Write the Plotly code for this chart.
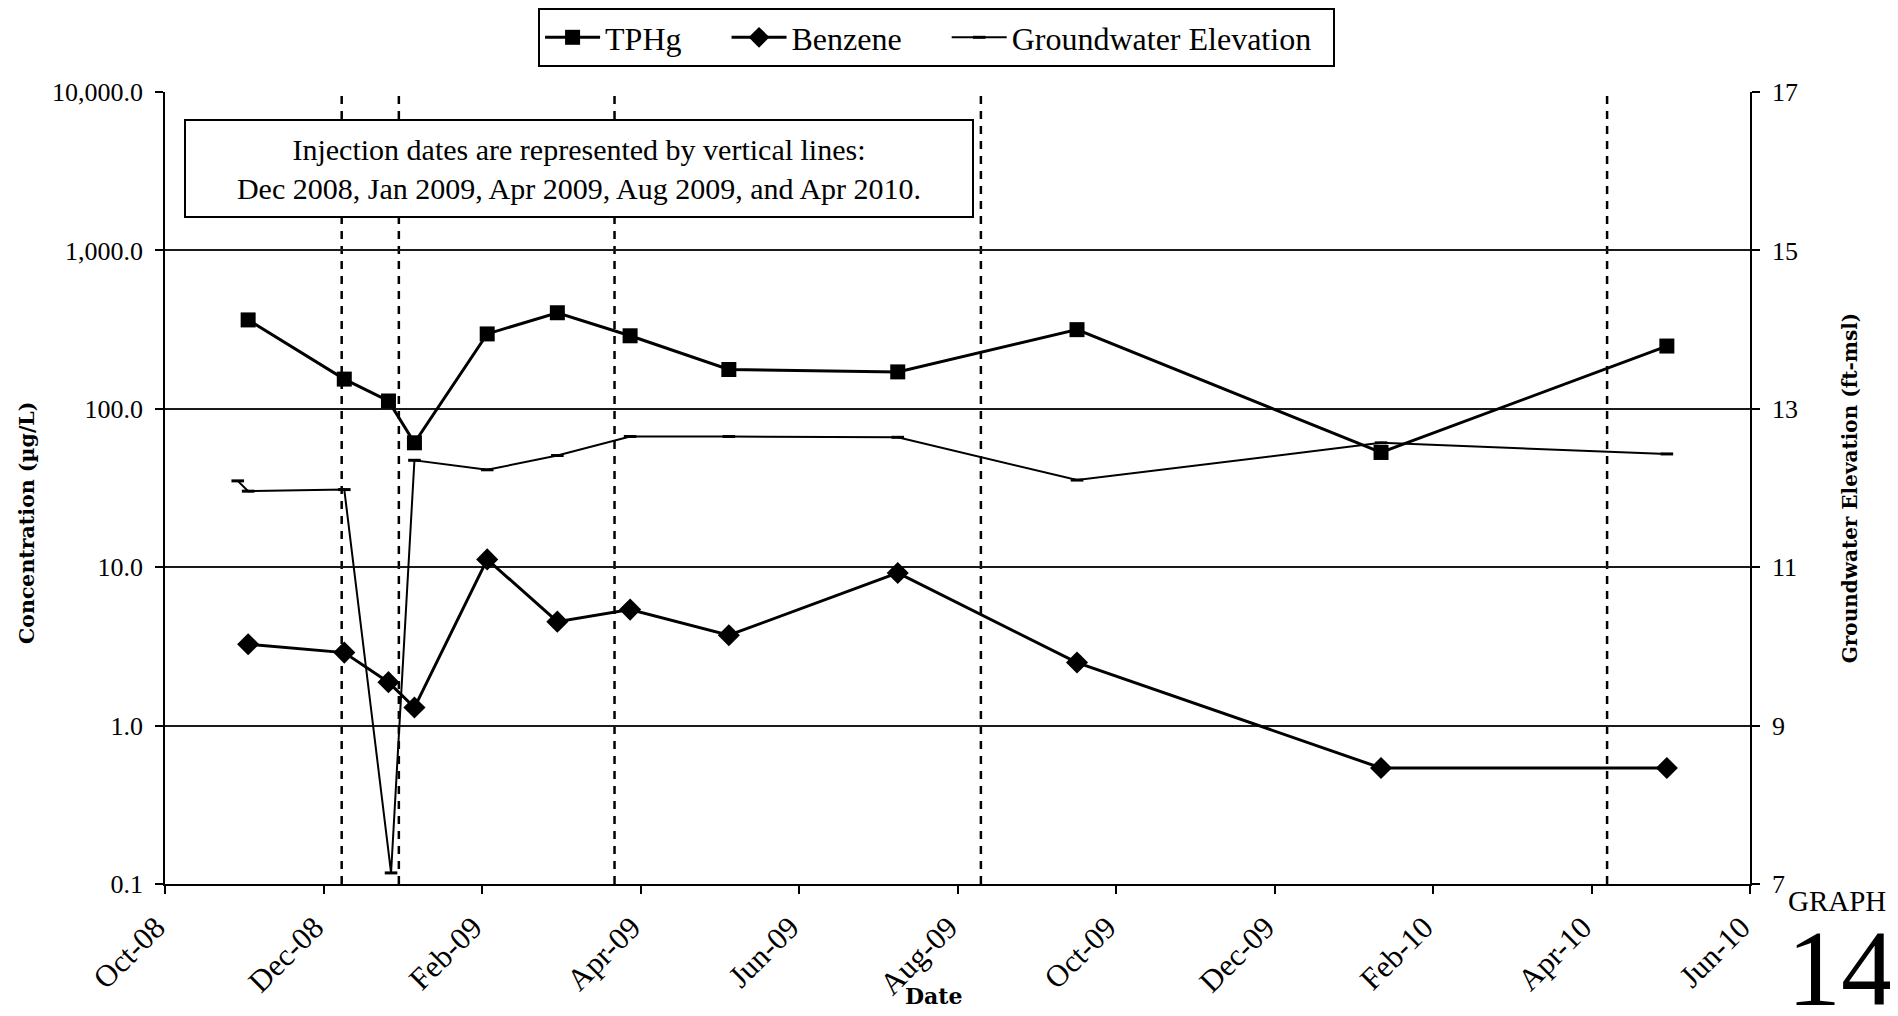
import plotly.graph_objects as go

# ---- data ----
sample_dates = ["2008-11-16", "2008-12-23", "2009-01-09", "2009-01-19", "2009-02-16",
                "2009-03-15", "2009-04-12", "2009-05-20", "2009-07-24", "2009-10-01",
                "2010-01-26", "2010-05-16"]
tphg = [364, 154, 112, 61, 297, 404, 289, 177, 171, 316, 53, 249]
benzene = [3.26, 2.89, 1.88, 1.30, 11.2, 4.53, 5.4, 3.72, 9.2, 2.5, 0.54, 0.54]

gw_dates = ["2008-11-12", "2008-11-16", "2008-12-23", "2009-01-10", "2009-01-19",
            "2009-02-16", "2009-03-15", "2009-04-12", "2009-05-20", "2009-07-24",
            "2009-10-01", "2010-01-26", "2010-05-16"]
gw_elev = [12.09, 11.96, 11.98, 7.14, 12.35, 12.23, 12.41, 12.65, 12.65, 12.64,
           12.10, 12.57, 12.43]

injection_dates = ["2008-12-22", "2009-01-13", "2009-04-06", "2009-08-25", "2010-04-23"]

x_tick_dates = ["2008-10-15", "2008-12-15", "2009-02-14", "2009-04-16", "2009-06-16",
                "2009-08-16", "2009-10-16", "2009-12-16", "2010-02-15", "2010-04-17",
                "2010-06-17"]
x_tick_labels = ["Oct-08", "Dec-08", "Feb-09", "Apr-09", "Jun-09", "Aug-09", "Oct-09",
                 "Dec-09", "Feb-10", "Apr-10", "Jun-10"]
y_tick_vals = [0.1, 1, 10, 100, 1000, 10000]
y_tick_labels = ["0.1", "1.0", "10.0", "100.0", "1,000.0", "10,000.0"]
y2_tick_vals = [7, 9, 11, 13, 15, 17]

SERIF = "Liberation Serif, Times New Roman, serif"
BOLD = "DejaVu Serif, serif"
PAD = "\u00a0" * 5

fig = go.Figure()
fig.add_trace(go.Scatter(
    x=sample_dates, y=tphg, name="TPHg" + PAD, mode="lines+markers",
    line=dict(color="black", width=3),
    marker=dict(symbol="square", size=15, color="black")))
fig.add_trace(go.Scatter(
    x=sample_dates, y=benzene, name="Benzene" + PAD, mode="lines+markers",
    line=dict(color="black", width=3),
    marker=dict(symbol="diamond", size=17, color="black")))
fig.add_trace(go.Scatter(
    x=gw_dates, y=gw_elev, name="Groundwater Elevation\u00a0\u00a0", mode="lines+markers",
    yaxis="y2",
    line=dict(color="black", width=2),
    marker=dict(symbol="line-ew", size=9, color="black",
                line=dict(color="black", width=3))))

for d in injection_dates:
    fig.add_shape(type="line", xref="x", yref="paper", x0=d, x1=d, y0=0, y1=1,
                  line=dict(color="black", width=2.5, dash="8px,7px"), layer="below")

fig.update_layout(
    width=1890, height=1008,
    margin=dict(l=157, r=148, t=84, b=132),
    paper_bgcolor="white", plot_bgcolor="white",
    font=dict(family=SERIF, size=26, color="black"),
    showlegend=True,
    legend=dict(orientation="h", xref="paper", x=0.4868, xanchor="center",
                yref="container", y=1.0, yanchor="top",
                bgcolor="white", bordercolor="black", borderwidth=2,
                font=dict(family=SERIF, size=32), itemwidth=55,
                traceorder="normal"),
    xaxis=dict(
        type="date", range=[x_tick_dates[0], x_tick_dates[-1]],
        tickmode="array", tickvals=x_tick_dates, ticktext=x_tick_labels,
        tickangle=-45, tickfont=dict(family=SERIF, size=31),
        ticklabelshift=-9, ticklabelstandoff=3,
        ticks="outside", ticklen=8, tickcolor="black", tickwidth=1.5,
        showgrid=False, showline=True, linecolor="black", linewidth=2,
        zeroline=False,
    ),
    yaxis=dict(
        type="log", range=[-1, 4],
        tickmode="array", tickvals=y_tick_vals, ticktext=y_tick_labels,
        tickfont=dict(family=SERIF, size=26), ticklabelstandoff=7,
        ticks="outside", ticklen=8, tickcolor="black", tickwidth=1.5,
        showgrid=True, gridcolor="#1a1a1a", gridwidth=1.5,
        showline=True, linecolor="black", linewidth=1.5, zeroline=False,
    ),
    yaxis2=dict(
        overlaying="y", side="right", range=[7, 17],
        tickmode="array", tickvals=y2_tick_vals,
        tickfont=dict(family=SERIF, size=26), ticklabelstandoff=7,
        ticks="outside", ticklen=8, tickcolor="black", tickwidth=1.5,
        showgrid=False, showline=True, linecolor="black", linewidth=1.5,
        zeroline=False,
        title=dict(text="<b>Groundwater Elevation (ft-msl)</b>",
                   font=dict(family=BOLD, size=20), standoff=46),
    ),
)

# axis titles placed where the reference shows them
fig.add_annotation(xref="paper", yref="paper", x=-0.0871, y=0.457,
                   xanchor="center", yanchor="middle", textangle=-90,
                   text="<b>Concentration (µg/L)</b>", showarrow=False,
                   font=dict(family=BOLD, size=20.5))
fig.add_annotation(xref="paper", yref="paper", x=0.4852, y=-0.1414,
                   xanchor="center", yanchor="middle",
                   text="<b>Date</b>", showarrow=False,
                   font=dict(family=BOLD, size=22))

fig.add_annotation(
    xref="paper", yref="paper", x=0.2612, y=0.9034, xanchor="center", yanchor="middle",
    text="Injection dates are represented by vertical lines:<br>"
         "Dec 2008, Jan 2009, Apr 2009, Aug 2009, and Apr 2010.",
    showarrow=False, align="center", font=dict(family=SERIF, size=30),
    bgcolor="white", bordercolor="black", borderwidth=2, borderpad=8,
    width=770, height=79)

fig.add_annotation(xref="paper", yref="paper", x=1.055, y=-0.0215,
                   xanchor="center", yanchor="middle", text="GRAPH",
                   showarrow=False, font=dict(family=SERIF, size=29))
fig.add_annotation(xref="paper", yref="paper", x=1.0575, y=-0.107,
                   xanchor="center", yanchor="middle", text="14",
                   showarrow=False, font=dict(family=SERIF, size=108))

fig.write_html("out.html")
